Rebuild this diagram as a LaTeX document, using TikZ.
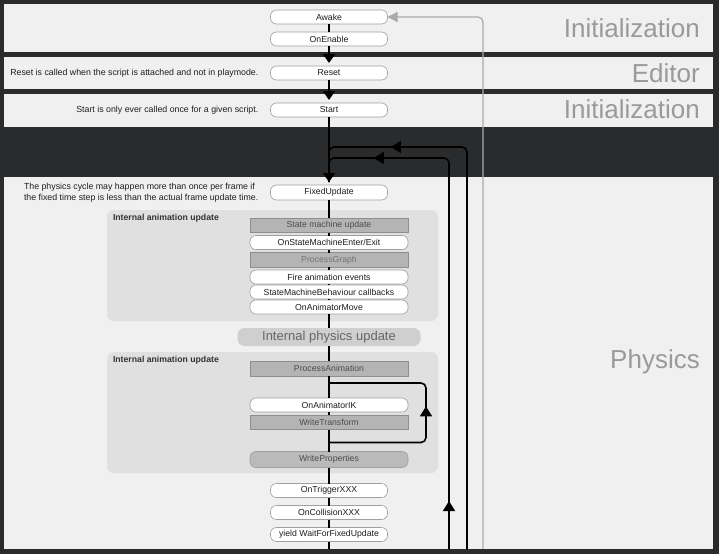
\documentclass[tikz,border=0pt]{standalone}
\usepackage{fontspec}
\setmainfont{Liberation Sans}
\usetikzlibrary{arrows.meta, positioning, fit, calc, backgrounds, decorations.markings}
\definecolor{bgdark}{HTML}{2A2B2D}
\definecolor{panelgray}{HTML}{F0F0F0}
\definecolor{grpgray}{HTML}{E0E0E0}
\definecolor{boxgray}{HTML}{B4B4B4}
\definecolor{boxedge}{HTML}{8E8E8E}
\definecolor{evtedge}{HTML}{A0A0A0}
\definecolor{labelgray}{HTML}{9A9A9A}
\definecolor{loopgray}{HTML}{AAAAAA}
\definecolor{textdark}{HTML}{1E1E1E}

\begin{document}
\begin{tikzpicture}[x=1pt, y=-1pt,
  evt/.style={rectangle, rounded corners=6pt, fill=white, draw=evtedge,
              line width=0.6pt, minimum width=117pt, minimum height=14pt,
              inner sep=0pt, outer sep=0pt, font=\fontsize{8.7}{10}\selectfont, text=textdark},
  inevt/.style={evt, minimum width=158pt},
  intl/.style={rectangle, fill=boxgray, draw=boxedge, line width=0.6pt,
               minimum width=158pt, minimum height=14.5pt, inner sep=0pt, outer sep=0pt,
               font=\fontsize{8.7}{10}\selectfont, text=black!70},
  note/.style={font=\fontsize{8.8}{10.5}\selectfont, text=textdark, inner sep=0pt},
  grp/.style={rectangle, rounded corners=7pt, fill=grpgray, inner sep=0pt},
  grplabel/.style={font=\fontsize{8.7}{10}\selectfont\bfseries, text=black!80, inner sep=0pt},
  section/.style={font=\fontsize{26}{28}\selectfont, text=labelgray, inner sep=0pt},
  flow/.style={line width=1.8pt},
  arr/.style={flow, -{Triangle[width=12pt,length=9pt]}, shorten >=3pt},
  loopline/.style={line width=1.6pt, rounded corners=5pt},
  node distance=8pt,
]
  \useasboundingbox (0,0) rectangle (719,554);

  %% Panels
  \begin{scope}[on background layer]
    \fill[bgdark] (0,0) rectangle (719,554);
    \fill[panelgray] (4,4) rectangle (713,52);
    \fill[panelgray] (4,57) rectangle (713,89);
    \fill[panelgray] (4,94) rectangle (713,127);
    \fill[panelgray] (4,177) rectangle (713,549);
  \end{scope}

  \node[section, anchor=base east] (secinit)  at (700,37)  {Initialization};
  \node[section, anchor=base east] (secedit)  at (700,82)  {Editor};
  \node[section, anchor=base east] (secstart) at (700,118) {Initialization};
  \node[section, anchor=base east] (secphys)  at (700,368) {Physics};

  %% Initialization / Editor
  \node[evt] (awake) at (329,17) {Awake};
  \node[evt, below=8pt of awake]     (enable) {OnEnable};
  \node[evt, below=20pt of enable]   (reset)  {Reset};
  \node[evt, below=23pt of reset]    (start)  {Start};
  \node[note, left=12pt of reset]    (resetnote) {Reset is called when the script is attached and not in playmode.};
  \node[note, left=12pt of start]    (startnote) {Start is only ever called once for a given script.};

  \draw[flow] (awake) -- (enable);
  \draw[arr] (enable) -- (reset);
  \draw[arr] (reset) -- (start);

  %% Physics
  \node[evt, minimum height=15pt, below=68pt of start] (fixed) {FixedUpdate};
  \node[note, align=left, left=12pt of fixed] (fixednote) {The physics cycle may happen more than once per frame if\\the fixed time step is less than the actual frame update time.};
  \draw[arr] (start) -- (fixed);

  %% Internal animation update (1)
  \node[intl, below=18pt of fixed]  (smupd)  {State machine update};
  \node[inevt, below=3pt of smupd]  (smenter) {OnStateMachineEnter/Exit};
  \node[intl, text=black!55, below=3pt of smenter] (pgraph) {ProcessGraph};
  \node[inevt, below=3pt of pgraph] (fire)   {Fire animation events};
  \node[inevt, below=1pt of fire]   (smbcb)  {StateMachineBehaviour callbacks};
  \node[inevt, below=1pt of smbcb]  (animmove) {OnAnimatorMove};

  \coordinate (anim1nw) at (107,210);
  \coordinate (anim1se) at (438,321);
  \begin{scope}[on background layer]
    \node[grp, fit=(anim1nw)(anim1se)] (anim1) {};
  \end{scope}
  \node[grplabel, anchor=north west] (anim1lbl) at ($(anim1.north west)+(6,4)$) {Internal animation update};

  \node[rectangle, rounded corners=7pt, fill=black!19, minimum width=183pt, minimum height=18pt,
        inner sep=0pt, outer sep=0pt, font=\fontsize{13}{15}\selectfont, text=black!60,
        below=14pt of animmove] (physupd) {Internal physics update};

  %% Internal animation update (2)
  \node[intl, below=15pt of physupd, minimum height=15pt] (panim) {ProcessAnimation};
  \node[inevt, below=22pt of panim] (animik) {OnAnimatorIK};
  \node[intl, below=3pt of animik]  (wtrans) {WriteTransform};
  \node[intl, rounded corners=6pt, fill=black!27, draw=black!38, minimum height=16pt,
        below=22pt of wtrans] (wprops) {WriteProperties};

  \coordinate (anim2nw) at (107,352);
  \coordinate (anim2se) at (438,473);
  \begin{scope}[on background layer]
    \node[grp, fit=(anim2nw)(anim2se)] (anim2) {};
  \end{scope}
  \node[grplabel, anchor=north west] (anim2lbl) at ($(anim2.north west)+(6,4)$) {Internal animation update};

  \node[evt, below=16pt of wprops] (trigger) {OnTriggerXXX};
  \node[evt, below=8pt of trigger] (collide) {OnCollisionXXX};
  \node[evt, below=8pt of collide] (waitfix) {yield WaitForFixedUpdate};

  \coordinate (mainend) at (329,549);
  \draw[flow] (fixed) -- (smupd) -- (smenter) -- (pgraph) -- (fire) -- (smbcb) -- (animmove)
              -- (physupd) -- (panim) -- (animik) -- (wtrans) -- (wprops)
              -- (trigger) -- (collide) -- (waitfix) -- (mainend);

  %% IK loop
  \coordinate (ikbot) at ($(wtrans.south)+(0,13)$);
  \coordinate (iktop) at ($(panim.south)+(0,7)$);
  \draw[loopline, postaction={decorate}, decoration={markings,
        mark=at position 131pt with {\arrow{Triangle[width=12pt,length=10pt]}}}]
    (ikbot) -| ($(iktop)+(97,0)$) -- (iktop);

  %% Frame loops
  \coordinate (outerbot) at (467,549);
  \coordinate (outerjoin) at (329,147);
  \coordinate (innerbot) at (449,549);
  \coordinate (innerjoin) at (329,158);
  \coordinate (graybot) at (483,549);

  \draw[loopline, shorten >=3pt, postaction={decorate}, decoration={markings,
        mark=at position 476pt with {\arrow{Triangle[width=12pt,length=10pt]}}}]
    (outerbot) |- (outerjoin) -- (fixed.north);
  \draw[loopline, shorten >=3pt, postaction={decorate}, decoration={markings,
        mark=at position 48pt with {\arrow{Triangle[width=12pt,length=10pt]}},
        mark=at position 464pt with {\arrow{Triangle[width=12pt,length=10pt]}}}]
    (innerbot) |- (innerjoin) -- (fixed.north);
  \draw[loopgray, line width=1.3pt, rounded corners=5pt, -{Triangle[width=10pt,length=10pt]}]
    (graybot) |- (awake.east);

\end{tikzpicture}
\end{document}
